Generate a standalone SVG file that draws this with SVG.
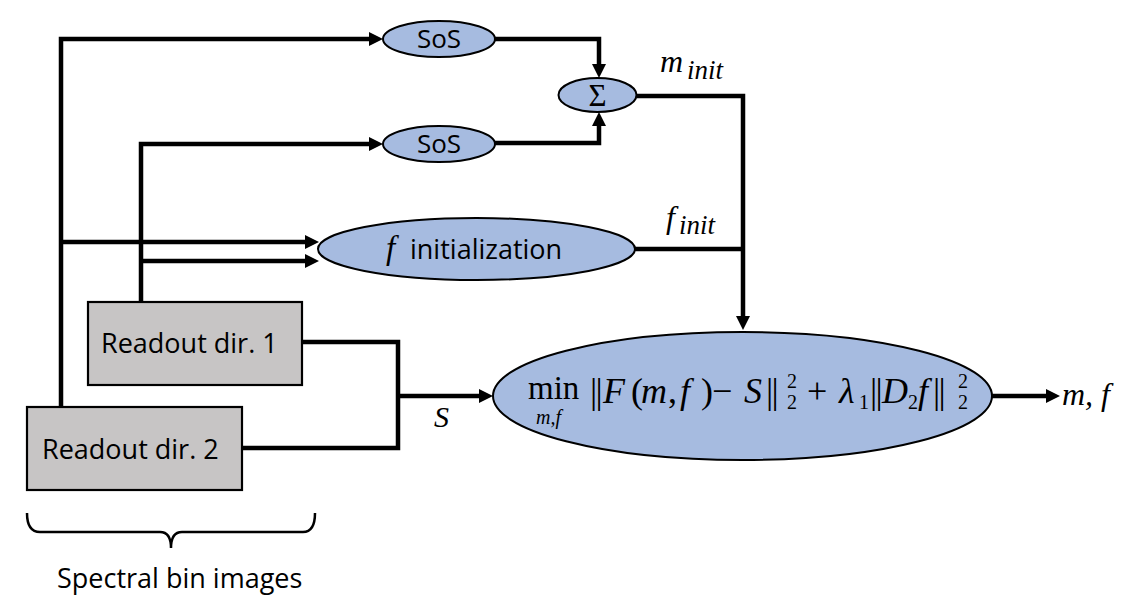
<svg xmlns="http://www.w3.org/2000/svg" width="1144" height="615" viewBox="0 0 1144 615">
<style>
.node{fill:#A6BBE0;stroke:#000;stroke-width:2}
.box{fill:#C7C5C5;stroke:#000;stroke-width:2.2}
.wire{fill:none;stroke:#000;stroke-width:4.5;stroke-linejoin:miter}
.arr{marker-end:url(#ah)}
.sans{font-family:"Open Sans","Noto Sans","Liberation Sans",sans-serif;fill:#000}
.math{font-family:"Liberation Serif","DejaVu Serif",serif;fill:#000}
.it{font-style:italic}
</style>
<defs>
<marker id="ah" viewBox="0 0 14 14" refX="6" refY="7" markerWidth="14" markerHeight="14" markerUnits="userSpaceOnUse" orient="auto">
<path d="M0,0 L14,7 L0,14 z" fill="#000"/>
</marker>
</defs>
<rect width="1144" height="615" fill="#fff"/>

<g id="connectors">
<path class="wire arr" d="M61,407 V39 H375"/>
<path class="wire arr" d="M61,242 H311"/>
<path class="wire arr" d="M141,302 V144 H375"/>
<path class="wire arr" d="M141,261 H311"/>
<path class="wire arr" d="M495,39 H599 V70"/>
<path class="wire arr" d="M495,143 H599 V120"/>
<path class="wire arr" d="M637,96 H743 V322"/>
<path class="wire" d="M635,249 H743"/>
<path class="wire" d="M302,342 H398 V448 H242"/>
<path class="wire arr" d="M398,396 H485"/>
<path class="wire arr" d="M992,396 H1052"/>
</g>

<g id="sos1">
<ellipse class="node" cx="439" cy="39" rx="56" ry="18"/>
<text class="sans" x="439" y="48" font-size="26" text-anchor="middle">SoS</text>
</g>
<g id="sos2">
<ellipse class="node" cx="439" cy="144" rx="56" ry="18"/>
<text class="sans" x="439" y="153" font-size="26" text-anchor="middle">SoS</text>
</g>
<g id="sum">
<ellipse class="node" cx="597.5" cy="95" rx="39" ry="17"/>
<text class="math" x="597.5" y="106" font-size="31" text-anchor="middle">Σ</text>
</g>
<g id="finit">
<ellipse class="node" cx="476.5" cy="249" rx="158.5" ry="31"/>
<text class="math it" x="386" y="259" font-size="33">f</text>
<text class="sans" x="410" y="259" font-size="27">initialization</text>
</g>
<g id="readout1">
<rect class="box" x="88" y="302" width="214" height="83"/>
<text class="sans" x="101" y="353" font-size="27">Readout dir. 1</text>
</g>
<g id="readout2">
<rect class="box" x="27" y="407" width="215" height="83"/>
<text class="sans" x="42" y="459" font-size="27">Readout dir. 2</text>
</g>
<g id="optim">
<ellipse class="node" cx="742.5" cy="396" rx="249.5" ry="64"/>
<text class="math" font-size="33" x="528" y="399">min</text>
<text class="math" font-size="36">
<tspan x="590" y="403">|</tspan><tspan x="595.5" y="403">|</tspan>
<tspan class="it" x="603" y="403">F</tspan>
<tspan x="631" y="403">(</tspan>
<tspan class="it" x="641" y="403">m</tspan>
<tspan x="668" y="403">,</tspan>
<tspan class="it" x="680" y="403">f</tspan>
<tspan x="701" y="403">)</tspan>
<tspan x="712" y="403">−</tspan>
<tspan class="it" x="744" y="403">S</tspan>
<tspan x="766" y="403">|</tspan><tspan x="771.5" y="403">|</tspan>
<tspan x="807" y="403">+</tspan>
<tspan class="it" x="839" y="403">λ</tspan>
<tspan x="870" y="403">|</tspan><tspan x="875.5" y="403">|</tspan>
<tspan class="it" x="882" y="403">D</tspan>
<tspan class="it" x="918" y="403">f</tspan>
<tspan x="933" y="403">|</tspan><tspan x="938.5" y="403">|</tspan>
</text>
<text class="math" font-size="20">
<tspan x="787" y="388">2</tspan>
<tspan x="787" y="409">2</tspan>
<tspan x="859" y="409">1</tspan>
<tspan x="908" y="409">2</tspan>
<tspan x="958" y="388">2</tspan>
<tspan x="958" y="409">2</tspan>
</text>
<text class="math it" x="536" y="424" font-size="20">m,f</text>
</g>

<g id="labels">
<text class="math it" x="660" y="72" font-size="32">m</text>
<text class="math it" x="687" y="79" font-size="27">init</text>
<text class="math it" x="666" y="228" font-size="32">f</text>
<text class="math it" x="679" y="234" font-size="27">init</text>
<text class="math it" x="434" y="427" font-size="30">S</text>
<text class="math it" x="1062" y="405" font-size="32">m, f</text>
</g>

<g id="brace">
<path d="M27,513 Q27,532 40,532 H160 Q171,532 171,548 Q171,532 182,532 H303 Q315,532 315,513" fill="none" stroke="#000" stroke-width="2.5"/>
<text class="sans" x="57" y="588" font-size="27">Spectral bin images</text>
</g>
</svg>
